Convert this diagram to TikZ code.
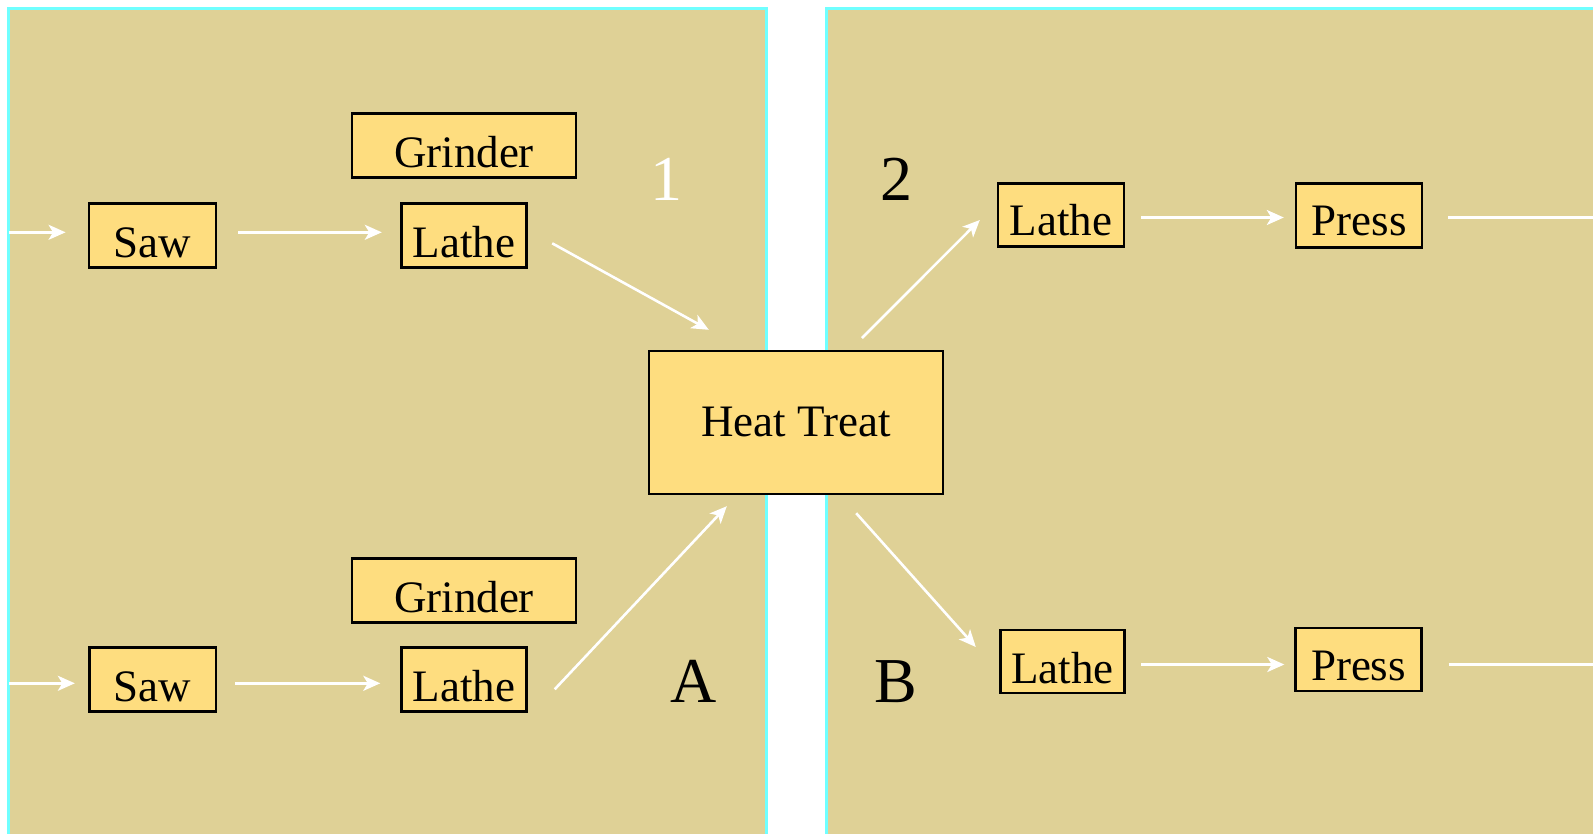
\documentclass[tikz,border=0pt]{standalone}
\usepackage{fontspec}
\setmainfont{Liberation Serif}
\usetikzlibrary{arrows.meta,calc}

\definecolor{panel}{HTML}{DFD196}
\definecolor{panelrule}{HTML}{70FFFF}
\definecolor{boxfill}{HTML}{FEDD7F}

\tikzset{
  stationbox/.style={draw=black, line width=2.4pt, fill=boxfill, inner sep=0pt,
    font=\fontsize{45}{54}\selectfont, text depth=10pt, text height=54pt},
  flow/.style={draw=white, line width=2.6pt,
    -{Stealth[length=17pt,width=15pt,inset=4.5pt]}},
  flowout/.style={draw=white, line width=2.6pt},
  cellmark/.style={font=\fontsize{64}{70}\selectfont, anchor=base, inner sep=0pt}
}

\begin{document}
\begin{tikzpicture}[x=1pt,y=-1pt]
  \useasboundingbox (0,0) rectangle (1593,833);
  \clip (0,0) rectangle (1593,833);
  \fill[white] (0,0) rectangle (1593,833);

  % the two cells
  \draw[panelrule, fill=panel, line width=2.4pt] (8.3,8.3) rectangle (766.3,850);
  \draw[panelrule, fill=panel, line width=2.4pt] (826.3,8.3) rectangle (1620,850);

  % cell 1 / A
  \node[stationbox, minimum width=126.5pt] (saw1) at (152.5,235.3) {Saw};
  \node[stationbox, minimum width=125pt] (lathe1) at (464,235.3) {Lathe};
  \node[stationbox, minimum width=224pt] (grinder1) at (464,145.3) {Grinder};
  \node[stationbox, minimum width=126.5pt] (saw2) at (152.6,679.3) {Saw};
  \node[stationbox, minimum width=125pt] (lathe2) at (464,679.3) {Lathe};
  \node[stationbox, minimum width=224pt] (grinder2) at (464,590.5) {Grinder};

  % shared heat treatment
  \node[stationbox, minimum width=294pt, text depth=58pt, text height=85pt]
    (heat) at (796,422.5) {Heat Treat};

  % cell 2 / B
  \node[stationbox, minimum width=126pt, text depth=11pt, text height=52pt]
    (latheR1) at (1061,215) {Lathe};
  \node[stationbox, minimum width=126pt, text depth=12pt, text height=52pt]
    (pressR1) at (1359,215.3) {Press};
  \node[stationbox, minimum width=124pt, text depth=10pt, text height=53pt]
    (latheR2) at (1062.6,661.5) {Lathe};
  \node[stationbox, minimum width=126pt, text depth=11pt, text height=52pt]
    (pressR2) at (1358.5,659.5) {Press};

  % cell labels
  \node[cellmark, text=white] (n1) at (666,200) {1};
  \node[cellmark] (n2) at (896,200) {2};
  \node[cellmark] (nA) at (694,702.7) {A};
  \node[cellmark] (nB) at (896,702.7) {B};

  % loose ends of the flow lines
  \coordinate (in1) at (9,232.3);
  \coordinate (in2) at (9,683.3);
  \coordinate (out1) at (1593,217.5);
  \coordinate (out2) at (1593,664.5);

  % material flow
  \draw[flow] (in1) -- ($(saw1.west)+(-22.5,-3)$);
  \draw[flow] ($(saw1.east)+(21.5,-3)$) -- ($(lathe1.west)+(-18.5,-3)$);
  \draw[flow] ($(lathe1.east)+(24.5,8)$) -- ($(heat.north west)+(61,-20)$);
  \draw[flow] (in2) -- ($(saw2.west)+(-13.3,4)$);
  \draw[flow] ($(saw2.east)+(18.4,4)$) -- ($(lathe2.west)+(-20,4)$);
  \draw[flow] ($(lathe2.east)+(27,10)$) -- ($(heat.south west)+(79,11)$);
  \draw[flow] ($(heat.north east)+(-82.3,-11.7)$) -- ($(latheR1.west)+(-17,5)$);
  \draw[flow] ($(latheR1.east)+(16,2.5)$) -- ($(pressR1.west)+(-11,2.2)$);
  \draw[flowout] ($(pressR1.east)+(25,2.2)$) -- (out1);
  \draw[flow] ($(heat.south east)+(-88,18)$) -- ($(latheR2.west)+(-23.6,-14.5)$);
  \draw[flow] ($(latheR2.east)+(15.4,3)$) -- ($(pressR2.west)+(-10,5)$);
  \draw[flowout] ($(pressR2.east)+(26,5)$) -- (out2);
\end{tikzpicture}
\end{document}
